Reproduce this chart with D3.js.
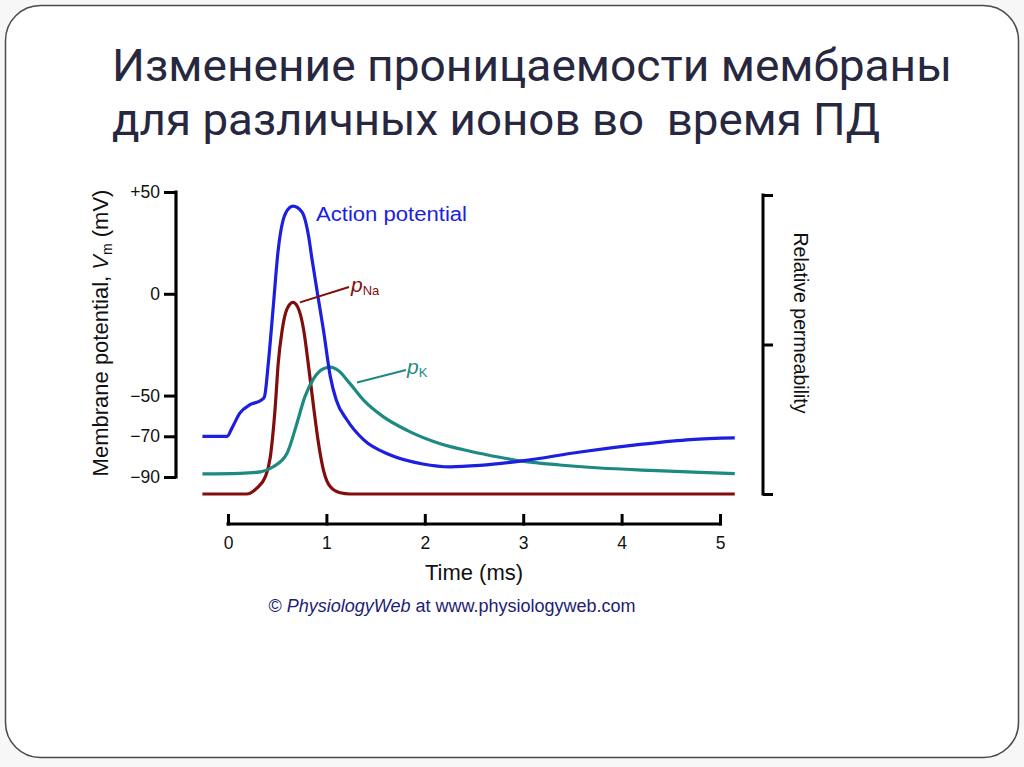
<!DOCTYPE html>
<html>
<head>
<meta charset="utf-8">
<script src="https://cdn.jsdelivr.net/npm/d3@7"></script>
<style>
html,body{margin:0;padding:0;background:#f7f7f7;}
svg{display:block;}
</style>
</head>
<body>
<svg id="chart" width="1024" height="767"></svg>
<script>
// ---------- data ----------
const titleLines = ["Изменение проницаемости мембраны", "для различных ионов во  время ПД"];
const timeTicks = [0, 1, 2, 3, 4, 5];
const vTicks = [50, 0, -50, -70, -90];
const vTickLabels = ["+50", "0", "\u221250", "\u221270", "\u221290"];
const permTicks = [0, 0.5, 1];

// Action potential (ms, mV)
const apTime = [-0.26, -0.01, 0.04, 0.12, 0.22, 0.34, 0.37, 0.41, 0.46, 0.51, 0.56, 0.63, 0.66, 0.75, 0.82, 0.85, 0.92, 0.97, 1.04, 1.1, 1.21, 1.38, 1.65, 1.98, 2.26, 2.56, 2.99, 3.58, 4.19, 4.7, 5.15];
const apV    = [-70, -70, -66, -58.6, -54.6, -52.2, -50.6, -34, -6.3, 21.5, 36.2, 42.5, 43.1, 40.3, 28, 18.2, -3, -17.8, -40.7, -52.2, -62, -71.8, -79.2, -83.6, -85.0, -84.3, -82.1, -77.7, -74.0, -71.6, -70.8];

// Relative Na permeability
const naTime = [-0.26, 0.19, 0.29, 0.38, 0.43, 0.48, 0.51, 0.55, 0.6, 0.66, 0.71, 0.77, 0.82, 0.87, 0.92, 0.97, 1.04, 1.14, 1.24, 5.15];
const naP    = [0, 0, 0.019, 0.058, 0.124, 0.291, 0.436, 0.547, 0.619, 0.641, 0.624, 0.547, 0.424, 0.291, 0.169, 0.08, 0.024, 0.004, 0, 0];

// Relative K permeability
const kTime = [-0.26, 0.12, 0.33, 0.46, 0.6, 0.7, 0.78, 0.87, 0.97, 1.04, 1.12, 1.24, 1.38, 1.58, 1.82, 2.15, 2.46, 2.76, 2.99, 3.37, 3.78, 4.29, 4.8, 5.15];
const kP    = [0.067, 0.069, 0.074, 0.091, 0.136, 0.236, 0.324, 0.386, 0.419, 0.424, 0.413, 0.369, 0.313, 0.258, 0.213, 0.169, 0.143, 0.123, 0.11, 0.097, 0.087, 0.079, 0.072, 0.068];

// ---------- drawing ----------
const svg = d3.select("#chart");
const FONT = "'Liberation Sans', Arial, Helvetica, sans-serif";

// slide frame
svg.append("rect").attr("x", 5.5).attr("y", 5.5).attr("width", 1013).attr("height", 752)
  .attr("rx", 35).attr("ry", 35).attr("fill", "#ffffff").attr("stroke", "#4a4a4a").attr("stroke-width", 1.5);

// title
const titleLens = [840, 768];
titleLines.forEach((t, i) => {
  svg.append("text").attr("x", 112).attr("y", 81 + i * 54)
    .attr("font-family", "Roboto, 'Open Sans', sans-serif").attr("font-size", 44)
    .attr("fill", "#272740").style("white-space", "pre")
    .attr("textLength", titleLens[i]).attr("lengthAdjust", "spacingAndGlyphs")
    .text(t);
});

const x = d3.scaleLinear().domain([0, 5]).range([228, 720]);
const y = d3.scaleLinear().domain([-90, 50]).range([477, 192]);
const yp = d3.scaleLinear().domain([0, 1]).range([494, 195]);

// left axis
const gy = svg.append("g").attr("transform", "translate(176,0)")
  .call(d3.axisLeft(y).tickValues(vTicks).tickSize(12).tickSizeOuter(0).tickPadding(4)
    .tickFormat((d, i) => vTickLabels[i]));
gy.select(".domain").attr("stroke", "#000").attr("stroke-width", 3.2)
  .attr("d", `M0,${y(50) - 1.5}V${y(-90) + 1.5}`);
gy.selectAll(".tick line").attr("stroke", "#000").attr("stroke-width", 3);
gy.selectAll(".tick text").attr("font-family", FONT).attr("font-size", 17.5).attr("fill", "#111");

// y title
const yt = svg.append("text").attr("transform", "translate(108,333) rotate(-90)")
  .attr("text-anchor", "middle").attr("font-family", FONT).attr("font-size", 22).attr("fill", "#111");
yt.append("tspan").text("Membrane potential, ");
yt.append("tspan").attr("font-style", "italic").text("V");
yt.append("tspan").attr("font-size", 14).attr("dy", 4).text("m");
yt.append("tspan").attr("dy", -4).text(" (mV)");

// right bracket axis
const gr = svg.append("g").attr("transform", "translate(763,0)")
  .call(d3.axisRight(yp).tickValues(permTicks).tickSize(10).tickSizeOuter(0).tickFormat(""));
gr.select(".domain").attr("stroke", "#000").attr("stroke-width", 3)
  .attr("d", `M0,${yp(1) - 1.5}V${yp(0) + 1.5}`);
gr.selectAll(".tick line").attr("stroke", "#000").attr("stroke-width", 3);

svg.append("text").attr("transform", "translate(794,323) rotate(90)")
  .attr("text-anchor", "middle").attr("font-family", FONT).attr("font-size", 19.5).attr("fill", "#111")
  .text("Relative permeability");

// x axis (ticks pointing up, labels below)
const gx = svg.append("g").attr("transform", "translate(0,524)")
  .call(d3.axisBottom(x).tickValues(timeTicks).tickSize(0).tickSizeOuter(0).tickPadding(25).tickFormat(d3.format("d")));
gx.select(".domain").attr("stroke", "#000").attr("stroke-width", 3)
  .attr("d", `M${x(0) - 1.5},0H${x(5) + 1.5}`);
gx.selectAll(".tick").append("line").attr("y1", 1.5).attr("y2", -10).attr("stroke", "#000").attr("stroke-width", 3);
gx.selectAll(".tick text").attr("font-family", FONT).attr("font-size", 17.5).attr("fill", "#111").attr("dy", 0);

svg.append("text").attr("x", 474).attr("y", 580).attr("text-anchor", "middle")
  .attr("font-family", FONT).attr("font-size", 22).attr("fill", "#111").text("Time (ms)");

// copyright
const cp = svg.append("text").attr("x", 452).attr("y", 612).attr("text-anchor", "middle")
  .attr("font-family", FONT).attr("font-size", 18).attr("fill", "#1d1d75");
cp.append("tspan").text("\u00a9 ");
cp.append("tspan").attr("font-style", "italic").text("PhysiologyWeb");
cp.append("tspan").text(" at www.physiologyweb.com");

// curves
const lineAP = d3.line().x(i => x(apTime[i])).y(i => y(apV[i])).curve(d3.curveMonotoneX);
const lineNa = d3.line().x(i => x(naTime[i])).y(i => yp(naP[i])).curve(d3.curveMonotoneX);
const lineK  = d3.line().x(i => x(kTime[i])).y(i => yp(kP[i])).curve(d3.curveMonotoneX);

const cRed = "#820d0d", cTeal = "#1d8a82", cBlue = "#1c1ee0";

svg.append("path").attr("d", lineNa(d3.range(naTime.length))).attr("fill", "none")
  .attr("stroke", cRed).attr("stroke-width", 3.2).attr("stroke-linejoin", "round");
svg.append("path").attr("d", lineK(d3.range(kTime.length))).attr("fill", "none")
  .attr("stroke", cTeal).attr("stroke-width", 3.2).attr("stroke-linejoin", "round");
svg.append("path").attr("d", lineAP(d3.range(apTime.length))).attr("fill", "none")
  .attr("stroke", cBlue).attr("stroke-width", 3.2).attr("stroke-linejoin", "round");

// labels
svg.append("text").attr("x", 316).attr("y", 221).attr("font-family", FONT).attr("font-size", 19.5)
  .attr("fill", cBlue).attr("textLength", 151).attr("lengthAdjust", "spacingAndGlyphs").text("Action potential");

// pNa leader + label (anchored at peak of Na curve)
const naPeakI = naP.indexOf(d3.max(naP));
svg.append("line").attr("x1", x(naTime[naPeakI]) + 7).attr("y1", yp(naP[naPeakI]))
  .attr("x2", 349).attr("y2", 287).attr("stroke", cRed).attr("stroke-width", 2);
const tNa = svg.append("text").attr("x", 351).attr("y", 292).attr("font-family", FONT).attr("fill", cRed);
tNa.append("tspan").attr("font-size", 21).attr("font-style", "italic").text("p");
tNa.append("tspan").attr("font-size", 13).attr("dy", 3).text("Na");

svg.append("line").attr("x1", 357).attr("y1", 382.5).attr("x2", 406).attr("y2", 370)
  .attr("stroke", cTeal).attr("stroke-width", 2);
const tK = svg.append("text").attr("x", 407).attr("y", 374).attr("font-family", FONT).attr("fill", cTeal);
tK.append("tspan").attr("font-size", 21).attr("font-style", "italic").text("p");
tK.append("tspan").attr("font-size", 13).attr("dy", 3).text("K");
</script>
</body>
</html>
